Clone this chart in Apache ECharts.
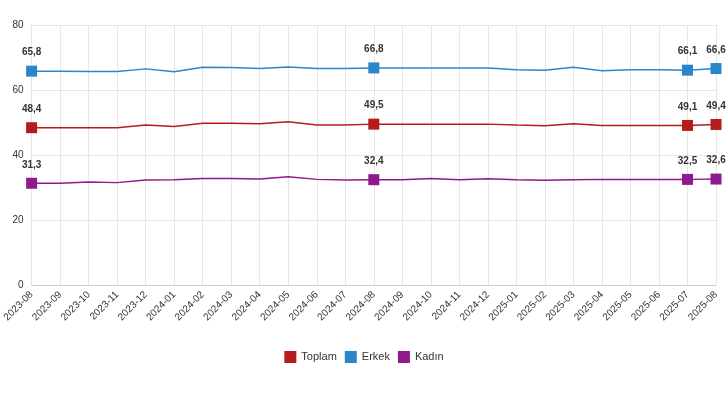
<!DOCTYPE html><html><head><meta charset="utf-8"><script src="https://cdn.jsdelivr.net/npm/echarts@6/dist/echarts.min.js"></script></head><body style="margin:0"><div id="c" style="width:728px;height:410px"></div><script>
const categories=['2023-08','2023-09','2023-10','2023-11','2023-12','2024-01','2024-02','2024-03','2024-04','2024-05','2024-06','2024-07','2024-08','2024-09','2024-10','2024-11','2024-12','2025-01','2025-02','2025-03','2025-04','2025-05','2025-06','2025-07','2025-08'];
const toplam=[48.4,48.4,48.4,48.4,49.2,48.8,49.8,49.8,49.6,50.2,49.2,49.2,49.5,49.5,49.5,49.5,49.5,49.2,49.0,49.6,49.1,49.1,49.1,49.1,49.4];
const erkek=[65.8,65.8,65.7,65.7,66.5,65.6,67.0,66.9,66.6,67.1,66.6,66.6,66.8,66.8,66.8,66.8,66.8,66.2,66.1,67.0,65.9,66.2,66.2,66.1,66.6];
const kadin=[31.3,31.3,31.7,31.5,32.3,32.4,32.8,32.8,32.6,33.3,32.5,32.3,32.4,32.4,32.8,32.4,32.7,32.4,32.2,32.4,32.5,32.5,32.5,32.5,32.6];
const marked=[0,12,23,24];
function mk(name,arr,color){return{name,type:'line',color,symbol:'rect',symbolSize:11,showSymbol:true,lineStyle:{width:1.5,color:color},
 itemStyle:{color,borderColor:'#fff',borderWidth:0},
 data:arr.map((v,i)=>marked.includes(i)?{value:v,symbolSize:11,label:{show:true}}:{value:v,symbolSize:0}),
 label:{show:false,position:'top',distance:8,fontSize:10,fontWeight:'bold',color:'#333',formatter:p=>String(p.value).replace('.',',')}};}
echarts.init(document.getElementById('c')).setOption({animation:false,
 grid:{left:30,right:12,top:25,bottom:125},
 legend:{bottom:42,left:'center',itemWidth:12,itemHeight:12,icon:'rect',textStyle:{fontSize:11,color:'#333'},data:['Toplam','Erkek','Kadın']},
 xAxis:{type:'category',boundaryGap:false,data:categories,axisLabel:{rotate:45,fontSize:10,color:'#333',interval:0},axisTick:{show:false},axisLine:{lineStyle:{color:'#ccc'}},splitLine:{show:true,lineStyle:{color:'#e6e6e6'}}},
 yAxis:{type:'value',min:0,max:80,interval:20,axisLabel:{fontSize:10,color:'#333'},splitLine:{lineStyle:{color:'#e6e6e6'}}},
 series:[mk('Toplam',toplam,'#b71c1c'),mk('Erkek',erkek,'#2a86c8'),mk('Kadın',kadin,'#8e1a8e')]});
</script></body></html>
